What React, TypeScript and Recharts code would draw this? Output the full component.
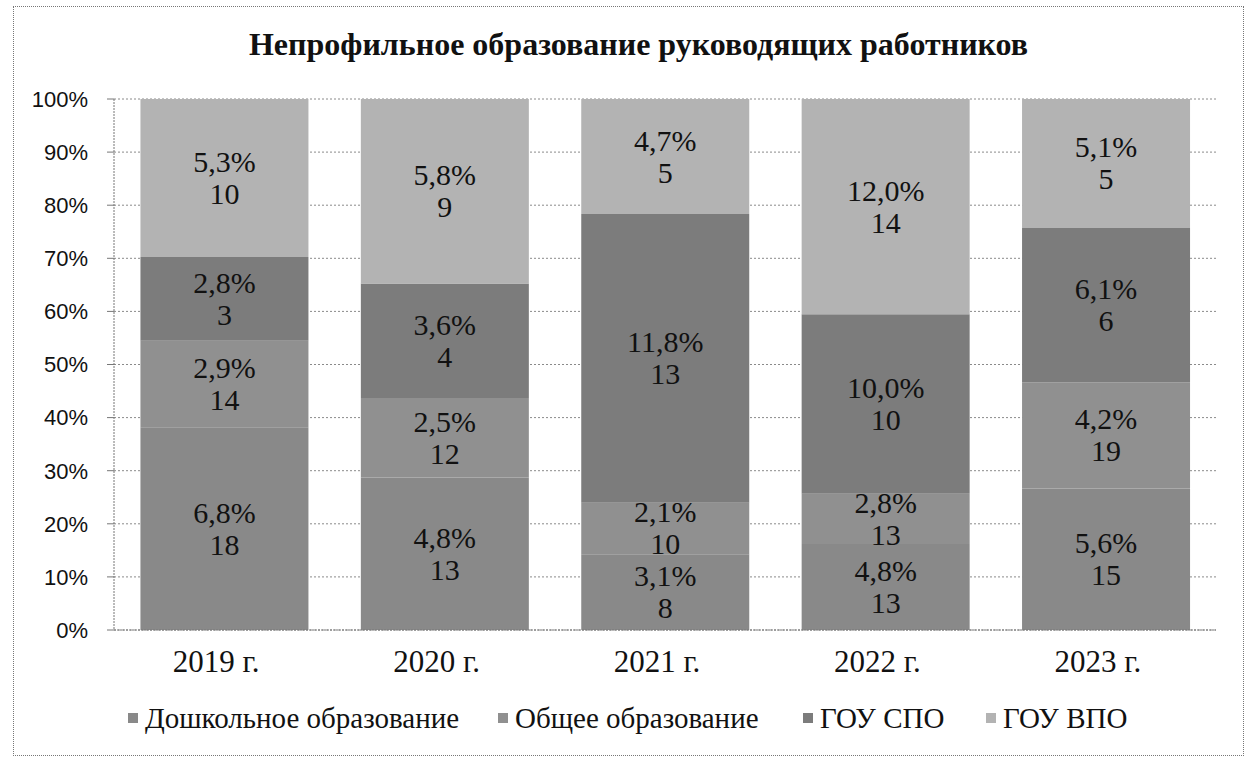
import React from 'react';
import { BarChart, Bar, XAxis, YAxis, CartesianGrid, LabelList } from 'recharts';

// categories
const years = ['2019 г.', '2020 г.', '2021 г.', '2022 г.', '2023 г.'];

// share (%) and headcount per education type
const preschoolPct = [6.8, 4.8, 3.1, 4.8, 5.6];
const preschoolCount = [18, 13, 8, 13, 15];
const generalPct = [2.9, 2.5, 2.1, 2.8, 4.2];
const generalCount = [14, 12, 10, 13, 19];
const spoPct = [2.8, 3.6, 11.8, 10.0, 6.1];
const spoCount = [3, 4, 13, 10, 6];
const vpoPct = [5.3, 5.8, 4.7, 12.0, 5.1];
const vpoCount = [10, 9, 5, 14, 5];

const yTicks = [0, 0.1, 0.2, 0.3, 0.4, 0.5, 0.6, 0.7, 0.8, 0.9, 1];

const series = [
  { key: 'preschool', name: 'Дошкольное образование', color: '#898989', counts: preschoolCount, legendX: 128 },
  { key: 'general', name: 'Общее образование', color: '#909090', counts: generalCount, legendX: 498 },
  { key: 'spo', name: 'ГОУ СПО', color: '#7c7c7c', counts: spoCount, legendX: 803 },
  { key: 'vpo', name: 'ГОУ ВПО', color: '#b3b3b3', counts: vpoCount, legendX: 986 },
];

const data = years.map((year, i) => ({
  year,
  preschool: preschoolPct[i],
  general: generalPct[i],
  spo: spoPct[i],
  vpo: vpoPct[i],
}));

const serif = '"Liberation Serif", "Times New Roman", serif';

const fmtPct = (v: number) => v.toFixed(1).replace('.', ',') + '%';

function makeLabel(counts: number[]) {
  return (props: any) => {
    const { x, y, width, height, value, index } = props;
    const cx = x + width / 2;
    const cy = y + height / 2;
    return (
      <text x={cx} textAnchor="middle" fontFamily={serif} fontSize={30} fill="#111">
        <tspan x={cx} y={cy - 6}>{fmtPct(value)}</tspan>
        <tspan x={cx} y={cy + 26}>{counts[index]}</tspan>
      </text>
    );
  };
}

const YearTick = (props: any) => {
  const { x, y, payload } = props;
  return (
    <text x={x - 8} y={y + 42} textAnchor="middle" fontFamily={serif} fontSize={31} fill="#111">
      {payload.value}
    </text>
  );
};

export default function App() {
  return (
    <div style={{ position: 'relative', width: 1253, height: 759, background: '#fff' }}>
      <style>{`body{margin:0}`}</style>
      <div
        style={{
          position: 'absolute',
          left: 13,
          top: 6,
          width: 1229,
          height: 748,
          border: '1px dotted #777',
        }}
      />
      <div
        style={{
          position: 'absolute',
          top: 26,
          left: 0,
          width: 1253,
          textAlign: 'center',
          fontFamily: serif,
          fontWeight: 'bold',
          fontSize: 32,
          color: '#111',
          paddingLeft: 12,
        }}
      >
        Непрофильное образование руководящих работников
      </div>
      <div style={{ position: 'absolute', left: 0, top: 0 }}>
        <BarChart
          width={1253}
          height={759}
          data={data}
          stackOffset="expand"
          barCategoryGap="12%"
          margin={{ top: 99, right: 37, left: 0, bottom: 89 }}
        >
          <CartesianGrid vertical={false} stroke="#8a8a8a" strokeDasharray="2 2" />
          <XAxis
            dataKey="year"
            tickLine={false}
            tickSize={0}
            tickMargin={0}
            axisLine={{ stroke: '#777', strokeDasharray: '2 1' }}
            height={40}
            tick={<YearTick />}
          />
          <YAxis
            width={114}
            ticks={yTicks}
            domain={[0, 1]}
            interval={0}
            tickFormatter={(v: number) => Math.round(v * 100) + '%'}
            axisLine={{ stroke: '#777', strokeDasharray: '2 1' }}
            tickLine={{ stroke: '#777' }}
            tickSize={7}
            tickMargin={19}
            tick={{ fontFamily: '"Liberation Sans", Arial, sans-serif', fontSize: 22, fill: '#111' }}
          />
          {series.map((s) => (
            <Bar key={s.key} dataKey={s.key} name={s.name} stackId="a" fill={s.color} isAnimationActive={false}>
              <LabelList dataKey={s.key} content={makeLabel(s.counts)} />
            </Bar>
          ))}
        </BarChart>
      </div>
      {series.map((s) => (
        <div
          key={s.key}
          style={{
            position: 'absolute',
            top: 701,
            left: s.legendX,
            display: 'flex',
            alignItems: 'center',
            fontFamily: serif,
            fontSize: 29,
            lineHeight: '34px',
            color: '#111',
            whiteSpace: 'nowrap',
          }}
        >
          <span style={{ width: 10, height: 10, background: s.color, marginRight: 7, display: 'inline-block' }} />
          <span>{s.name}</span>
        </div>
      ))}
    </div>
  );
}
